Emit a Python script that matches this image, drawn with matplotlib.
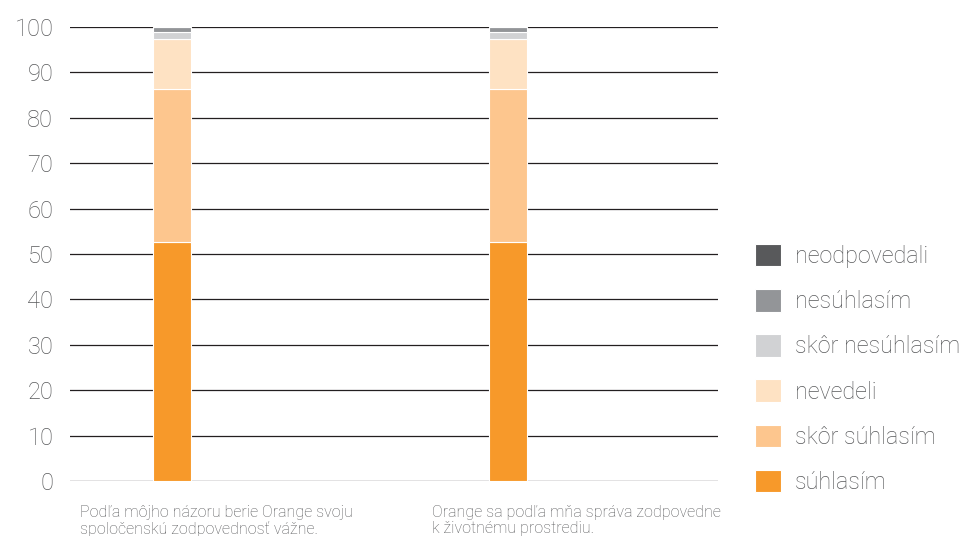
import matplotlib.pyplot as plt
from matplotlib.transforms import blended_transform_factory

# survey answers (percent), per statement
statements = ['Podľa môjho názoru berie Orange svoju\nspoločenskú zodpovednosť vážne.',
              'Orange sa podľa mňa správa zodpovedne\nk životnému prostrediu.']
answers = ['súhlasím', 'skôr súhlasím', 'nevedeli', 'skôr nesúhlasím', 'nesúhlasím', 'neodpovedali']
suhlasim = [52.7, 52.7]
skor_suhlasim = [33.7, 33.7]
nevedeli = [11.0, 11.0]
skor_nesuhlasim = [1.5, 1.5]
nesuhlasim = [1.0, 1.0]
neodpovedali = [0.1, 0.1]

series = [suhlasim, skor_suhlasim, nevedeli, skor_nesuhlasim, nesuhlasim, neodpovedali]
colors = ['#F7992A', '#FDC68E', '#FEE2C3', '#D1D2D4', '#939598', '#58595B']

plt.rcParams['font.family'] = ['Roboto', 'DejaVu Sans']
text_gray = '#58595B'

fig = plt.figure(figsize=(9.63, 5.36), dpi=100)
ax = fig.add_axes([70 / 963, 1 - 481 / 536, 648 / 963, 454 / 536])

x = [0, 1]
bottom = [0, 0]
handles = []
for name, vals, c in zip(answers, series, colors):
    b = ax.bar(x, vals, width=0.113, bottom=bottom, color=c, edgecolor='white',
               linewidth=0.8, label=name, zorder=3)
    handles.append(b)
    bottom = [bo + v for bo, v in zip(bottom, vals)]

ax.set_xlim(-0.304, 1.625)
ax.set_ylim(0, 100)
ax.set_yticks(range(0, 101, 10))
ax.yaxis.grid(True, color='#231F20', linewidth=0.9, zorder=0)
ax.set_axisbelow(True)
for s in ax.spines.values():
    s.set_visible(False)
ax.tick_params(axis='y', length=0, pad=12, labelsize=17, labelcolor=text_gray)
ax.tick_params(axis='x', length=0, labelbottom=False)
for lab in ax.get_yticklabels():
    lab.set_fontweight('light')

# category labels under the bars, left aligned
trans = blended_transform_factory(ax.transData, ax.transAxes)
for xpos, txt in zip([-0.274, 0.774], statements):
    ax.text(xpos, -0.053, txt, transform=trans, ha='left', va='top',
            fontsize=11.5, color=text_gray, fontweight='light', linespacing=1.05)

leg = fig.legend(handles[::-1], answers[::-1], loc='upper left',
                 bbox_to_anchor=(755 / 963, 1 - 244 / 536), frameon=False,
                 fontsize=16.8, labelcolor=text_gray, handlelength=1.1,
                 handleheight=1.1, labelspacing=0.9, handletextpad=0.62,
                 borderpad=0, borderaxespad=0)
for t in leg.get_texts():
    t.set_fontweight('light')

plt.savefig('out.png', dpi=100)
